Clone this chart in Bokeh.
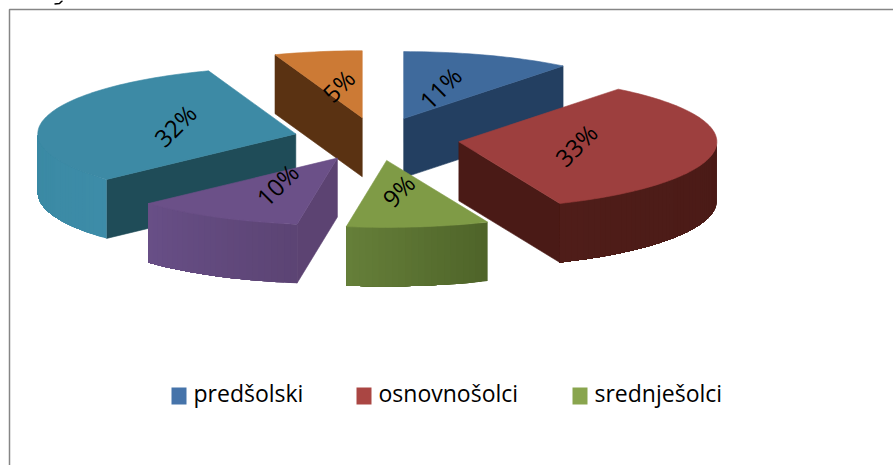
import math
from bokeh.plotting import figure
from bokeh.embed import file_html
from bokeh.resources import INLINE
from bokeh.core.properties import value

# --- data ---
percent_labels = ["11%", "33%", "9%", "10%", "32%", "5%"]       # as printed on the slices
values = [10.6, 33.0, 8.9, 10.6, 31.41, 5.49]                   # slice sizes estimated from the drawn angles
top_colors = ["#3f6a9c", "#9d3f3e", "#7f9b46", "#6b5088", "#3d8aa5", "#cc7a35"]
cut_colors = ["#233f61", "#4a1a16", "#566d2e", "#5c4372", "#1f4c58", "#5a3212"]
wall_left = ["#233f61", "#4f1d19", "#66803a", "#684f87", "#3a89a3", "#5a3212"]
wall_right = ["#233f61", "#4a1a16", "#4f6429", "#5c4474", "#3d8ca8", "#5a3212"]
legend_names = ["predšolski", "osnovnošolci", "srednješolci"]
legend_colors = ["#4674aa", "#aa4643", "#89a54e"]

# --- 3D pie projection ---
CX, CY, RX, RY, DEPTH, EXPLODE, LABEL_K = 376, 138.5, 258, 67, 59, 0.322, 0.47
LABEL_DX, LABEL_DY = -3, -1
W, H = 893, 465

p = figure(width=W, height=H, x_range=(0, W), y_range=(H, 0),
           output_backend="svg", toolbar_location=None, min_border=0,
           x_axis_location=None, y_axis_location=None, outline_line_color=None)
p.grid.visible = False


def lerp_color(a, b, t):
    ca = [int(a[i:i + 2], 16) for i in (1, 3, 5)]
    cb = [int(b[i:i + 2], 16) for i in (1, 3, 5)]
    return "#%02x%02x%02x" % tuple(round(u + (v - u) * t) for u, v in zip(ca, cb))


total = sum(values)
slices = []
acc = 0
for i, v in enumerate(values):
    a0 = acc / total * 2 * math.pi
    acc += v
    a1 = acc / total * 2 * math.pi
    slices.append((i, a0, a1, (a0 + a1) / 2))


def draw_face(xs, ys, color):
    p.patch(xs, ys, fill_color=color, line_color=color, line_width=0.6)


for i, a0, a1, mid in sorted(slices, key=lambda s: -math.cos(s[3])):
    ax = CX + EXPLODE * RX * math.sin(mid)
    ay = CY - EXPLODE * RY * math.cos(mid)
    n = max(6, int((a1 - a0) * 40))
    angs = [a0 + (a1 - a0) * k / n for k in range(n + 1)]
    rim_x = [ax + RX * math.sin(t) for t in angs]
    rim_y = [ay - RY * math.cos(t) for t in angs]

    if rim_x[0] < ax:
        draw_face([ax, rim_x[0], rim_x[0], ax],
                  [ay, rim_y[0], rim_y[0] + DEPTH, ay + DEPTH], cut_colors[i])
    if ax < rim_x[-1]:
        draw_face([rim_x[-1], ax, ax, rim_x[-1]],
                  [rim_y[-1], ay, ay + DEPTH, rim_y[-1] + DEPTH], cut_colors[i])
    # outer wall: overlapping shaded bands, each reaching to the wall's left end
    vis = [k for k in range(n + 1) if math.pi / 2 <= angs[k] <= 3 * math.pi / 2]
    if len(vis) > 1:
        for k in vis[:-1]:
            t = 1 - (k - vis[0]) / (len(vis) - 1)
            xs = rim_x[k:vis[-1] + 1]
            ys = rim_y[k:vis[-1] + 1]
            p.patch(xs + xs[::-1], ys + [y + DEPTH for y in ys[::-1]],
                    fill_color=lerp_color(wall_left[i], wall_right[i], t), line_color=None)
    draw_face([ax] + rim_x, [ay] + rim_y, top_colors[i])

for i, a0, a1, mid in slices:
    ax = CX + EXPLODE * RX * math.sin(mid)
    ay = CY - EXPLODE * RY * math.cos(mid)
    p.text([ax + LABEL_K * RX * math.sin(mid) + LABEL_DX],
           [ay - LABEL_K * RY * math.cos(mid) + LABEL_DY],
           text=[percent_labels[i]], angle=math.pi / 4, text_align="center",
           text_baseline="middle", text_color="#000000",
           text_font=value("Open Sans"), text_font_size="24px")

p.line([9, 9, W], [H, 9, 9], line_color="#868686", line_width=1.5)

# sliver of a cut-off line of writing above the frame
p.line([62, 59, 54], [0, 3, 3.5], line_color="#000000", line_width=1.5)

square_left = [171, 356, 572]
text_left = [193, 378, 594]
for name, col, sx, tx in zip(legend_names, legend_colors, square_left, text_left):
    p.quad(left=[sx], right=[sx + 15], top=[387], bottom=[404], fill_color=col, line_color=None)
    p.text([tx], [392], text=[name], text_align="left", text_baseline="middle",
           text_color="#000000", text_font=value("Open Sans"), text_font_size="23px")

open("out.html", "w").write(file_html(p, INLINE))
